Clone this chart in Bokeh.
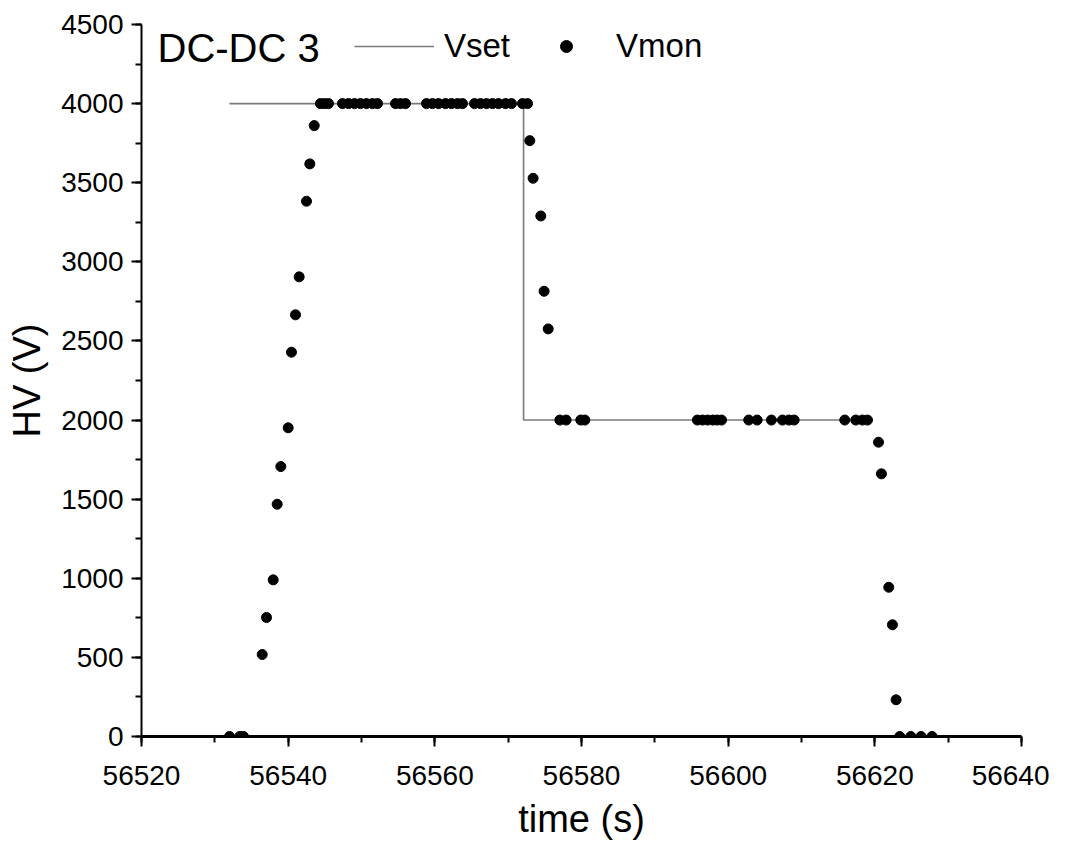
from bokeh.plotting import figure
from bokeh.models import (Range1d, SingleIntervalTicker, BasicTickFormatter, Label,
                          Legend, LegendItem)
from bokeh.embed import file_html
from bokeh.resources import INLINE

# ---- data ----
vset_t = [56532.0, 56572.1, 56572.1, 56619.3]
vset_v = [4000, 4000, 2000, 2000]

vmon_t = [56532.0, 56533.4, 56533.9,
          56536.46, 56537.05, 56537.96, 56538.5, 56539.0, 56540.0, 56540.45,
          56541.0, 56541.5, 56542.5, 56542.95, 56543.55,
          56544.4, 56544.95, 56545.5,
          56547.41, 56548.23, 56549.05, 56549.86, 56550.68, 56551.5, 56552.18,
          56554.64, 56555.32, 56556.0,
          56558.86, 56559.68, 56560.5, 56561.45, 56562.27, 56563.09, 56563.77,
          56565.41, 56566.23, 56567.05, 56567.86, 56568.68, 56569.64, 56570.45,
          56571.95, 56572.64,
          56572.95, 56573.4, 56574.45, 56574.9, 56575.46,
          56577.05, 56577.9, 56579.9, 56580.45,
          56595.8, 56596.5, 56597.2, 56597.9, 56598.5, 56599.1,
          56602.8, 56603.95, 56605.9, 56607.4, 56608.3, 56609.0,
          56615.9, 56617.4, 56618.3, 56619.0,
          56620.5, 56620.9, 56621.9, 56622.4, 56622.9,
          56623.4, 56624.9, 56626.3, 56627.8]
vmon_v = [0, 0, 0,
          518, 752, 990, 1468, 1706, 1951, 2429,
          2665, 2905, 3383, 3619, 3861,
          4000, 4000, 4000,
          4000, 4000, 4000, 4000, 4000, 4000, 4000,
          4000, 4000, 4000,
          4000, 4000, 4000, 4000, 4000, 4000, 4000,
          4000, 4000, 4000, 4000, 4000, 4000, 4000,
          4000, 4000,
          3766, 3528, 3290, 2814, 2576,
          2000, 2000, 2000, 2000,
          2000, 2000, 2000, 2000, 2000, 2000,
          2000, 2000, 2000, 2000, 2000, 2000,
          2000, 2000, 2000, 2000,
          1860, 1660, 943, 706, 232,
          0, 0, 0, 0]

title_text = "DC-DC 3"
x_label = "time (s)"
y_label = "HV (V)"

FONT = "Liberation Sans"

p = figure(width=1049, height=849, output_backend="svg", toolbar_location=None,
           x_range=Range1d(56520, 56640), y_range=Range1d(0, 4500),
           min_border_left=141, min_border_right=28, min_border_top=24,
           min_border_bottom=113)
p.outline_line_color = None
p.xgrid.visible = False
p.ygrid.visible = False
p.background_fill_color = "white"
p.border_fill_color = "white"

r_set = p.line(vset_t, vset_v, line_color="#7a7a7a", line_width=1.6)
r_mon = p.scatter(vmon_t, vmon_v, size=10, fill_color="black", line_color="black")

for ax, interval in ((p.xaxis[0], 20), (p.yaxis[0], 500)):
    ax.ticker = SingleIntervalTicker(interval=interval, num_minor_ticks=2)
    ax.formatter = BasicTickFormatter(use_scientific=False)
    ax.axis_line_color = "black"
    ax.major_tick_line_color = "black"
    ax.minor_tick_line_color = "black"
    ax.major_tick_line_width = 2
    ax.minor_tick_line_width = 2
    ax.major_tick_in = 0
    ax.major_tick_out = 10
    ax.minor_tick_in = 0
    ax.minor_tick_out = 6
    ax.major_label_text_font = FONT
    ax.major_label_text_font_size = "28px"
    ax.major_label_text_color = "black"
    ax.axis_label_text_font = FONT
    ax.axis_label_text_font_size = "38px"
    ax.axis_label_text_font_style = "normal"
    ax.axis_label_text_color = "black"

p.xaxis.axis_line_width = 3
p.yaxis.axis_line_width = 2
p.xaxis.axis_label = x_label
p.yaxis.axis_label = y_label
p.xaxis.major_label_standoff = 19
p.yaxis.major_label_standoff = 8
p.xaxis.axis_label_standoff = 10
p.yaxis.axis_label_standoff = 10

p.add_layout(Label(x=16, y=689, x_units="screen", y_units="screen", text=title_text,
                   text_font=FONT, text_font_size="40px", text_color="black",
                   text_baseline="alphabetic"))

legend = Legend(items=[LegendItem(label="Vset", renderers=[r_set]),
                       LegendItem(label="Vmon", renderers=[r_mon])],
                orientation="horizontal", location=(213, 671),
                label_text_font=FONT, label_text_font_size="33px",
                label_text_color="black",
                glyph_width=80, glyph_height=30, label_standoff=10, spacing=16,
                padding=0, margin=0, border_line_color=None,
                background_fill_alpha=0)
p.add_layout(legend)

open("out.html", "w").write(file_html(p, INLINE))
